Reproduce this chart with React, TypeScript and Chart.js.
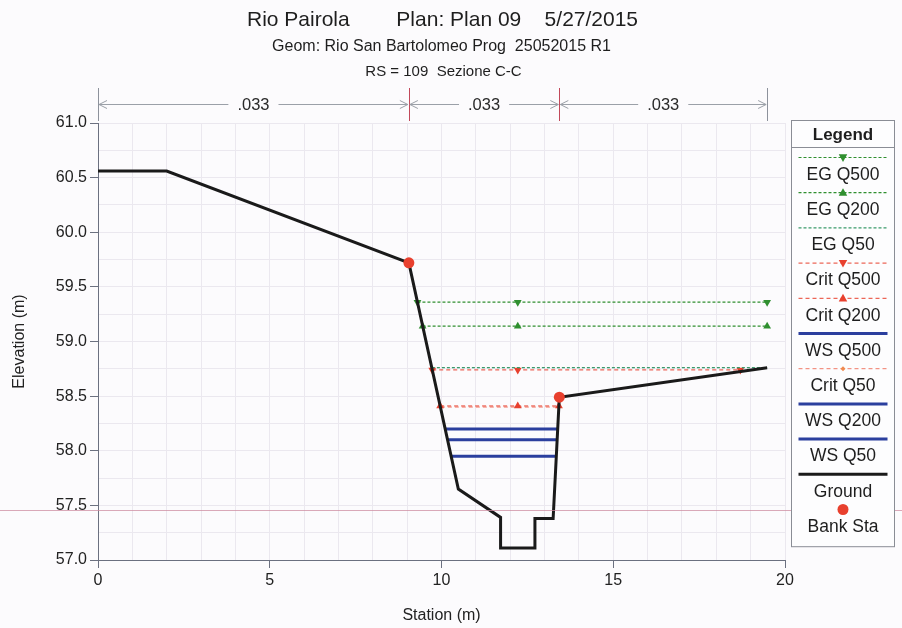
import React, { useEffect, useRef } from "react";
import { Chart, registerables } from "chart.js";

Chart.register(...registerables);

const FONT = "'Liberation Sans', Arial, sans-serif";

// ---- Data (station m, elevation m) ----
const groundSta = [0, 2.0, 9.05, 10.49, 11.72, 11.72, 12.72, 12.72, 13.25, 13.43, 19.48];
const groundElev = [60.56, 60.56, 59.72, 57.65, 57.39, 57.11, 57.11, 57.38, 57.38, 58.49, 58.76];
const bankSta = [9.05, 13.43];
const bankElev = [59.72, 58.49];

const egQ500Sta = [9.3, 12.22, 19.48];
const egQ500Elev = [59.36, 59.36, 59.36];
const egQ200Sta = [9.45, 12.22, 19.48];
const egQ200Elev = [59.14, 59.14, 59.14];
const egQ50Sta = [9.72, 19.48];
const egQ50Elev = [58.76, 58.76];
const critQ500Sta = [9.73, 12.22, 18.7];
const critQ500Elev = [58.74, 58.74, 58.74];
const critQ200Sta = [9.96, 12.22, 13.42];
const critQ200Elev = [58.41, 58.41, 58.41];
const critQ50Sta = [9.98, 13.42];
const critQ50Elev = [58.4, 58.4];
const wsQ500Sta = [10.11, 13.38];
const wsQ500Elev = [58.2, 58.2];
const wsQ200Sta = [10.18, 13.37];
const wsQ200Elev = [58.1, 58.1];
const wsQ50Sta = [10.28, 13.34];
const wsQ50Elev = [57.95, 57.95];

const manningN = [0.033, 0.033, 0.033];
const refLineElev = 57.46;

const titleLine = "Rio Pairola        Plan: Plan 09    5/27/2015";
const subLines = ["Geom: Rio San Bartolomeo Prog  25052015 R1", "RS = 109  Sezione C-C"];

const xMin = 0, xMax = 20, xStep = 1, xLabelEvery = 5;
const yMin = 57, yMax = 61, yStep = 0.25, yLabelEvery = 0.5;

const pts = (s: number[], e: number[]) => s.map((v, i) => ({ x: v, y: e[i] }));

const GREEN = "#2f8f2f";
const GREEN2 = "#3a9a6a";
const RED = "#e8402e";
const BLUE = "#2b3f9e";
const AXIS = "#6b7080";
const GRID = "#ebe8ef";

const isMult = (v: number, m: number) => Math.abs(v / m - Math.round(v / m)) < 1e-6;

function drawMarker(ctx: CanvasRenderingContext2D, style: string, x: number, y: number, r: number, rot: number, color: string) {
  ctx.save();
  ctx.fillStyle = color;
  ctx.strokeStyle = color;
  ctx.setLineDash([]);
  ctx.translate(x, y);
  ctx.rotate((rot * Math.PI) / 180);
  ctx.beginPath();
  if (style === "circle") {
    ctx.arc(0, 0, r, 0, Math.PI * 2);
    ctx.fill();
  } else if (style === "triangle") {
    ctx.moveTo(0, -r);
    ctx.lineTo(r * 0.95, r * 0.7);
    ctx.lineTo(-r * 0.95, r * 0.7);
    ctx.closePath();
    ctx.fill();
  } else if (style === "rectRot") {
    ctx.moveTo(0, -r);
    ctx.lineTo(r, 0);
    ctx.lineTo(0, r);
    ctx.lineTo(-r, 0);
    ctx.closePath();
    ctx.fill();
  }
  ctx.restore();
}

const bgPlugin = {
  id: "bg",
  beforeDraw(chart: any) {
    const { ctx } = chart;
    ctx.save();
    ctx.fillStyle = "#fcfbfd";
    ctx.fillRect(0, 0, chart.width, chart.height);
    ctx.restore();
  },
};

const titlePlugin = {
  id: "hecTitle",
  afterDraw(chart: any) {
    const { ctx, chartArea } = chart;
    const cx = (chartArea.left + chartArea.right) / 2;
    ctx.save();
    ctx.fillStyle = "#1e1e1e";
    ctx.textAlign = "center";
    ctx.textBaseline = "middle";
    ctx.font = `21px ${FONT}`;
    ctx.fillText(titleLine, cx + 1, 20);
    ctx.font = `16px ${FONT}`;
    ctx.fillText(subLines[0], cx, 47);
    ctx.font = `15px ${FONT}`;
    ctx.fillText(subLines[1], cx + 2, 72);
    ctx.restore();
  },
};

const nPlugin = {
  id: "nValues",
  afterDraw(chart: any) {
    const { ctx, chartArea } = chart;
    const xs = chart.scales.x;
    const stations = [groundSta[0], bankSta[0], bankSta[1], groundSta[groundSta.length - 1]];
    const px = stations.map((s) => xs.getPixelForValue(s));
    const yLine = chartArea.top - 19;
    const yTop = chartArea.top - 35;
    ctx.save();
    ctx.lineWidth = 1;
    px.forEach((p, i) => {
      ctx.strokeStyle = i === 0 || i === px.length - 1 ? "#8d929c" : "#c2485a";
      ctx.beginPath();
      ctx.moveTo(Math.round(p) + 0.5, yTop);
      ctx.lineTo(Math.round(p) + 0.5, chartArea.top - 2);
      ctx.stroke();
    });
    ctx.font = `16.5px ${FONT}`;
    ctx.textAlign = "center";
    ctx.textBaseline = "middle";
    for (let i = 0; i < manningN.length; i++) {
      const a = px[i] + 1, b = px[i + 1] - 1;
      const mid = (a + b) / 2;
      const label = manningN[i].toFixed(3).replace(/^0/, "");
      const w = ctx.measureText(label).width / 2 + 9;
      ctx.strokeStyle = "#9ba0a8";
      ctx.beginPath();
      ctx.moveTo(a, yLine + 0.5);
      ctx.lineTo(mid - w, yLine + 0.5);
      ctx.moveTo(mid + w, yLine + 0.5);
      ctx.lineTo(b, yLine + 0.5);
      ctx.moveTo(a + 8, yLine - 3.5);
      ctx.lineTo(a, yLine + 0.5);
      ctx.lineTo(a + 8, yLine + 4.5);
      ctx.moveTo(b - 8, yLine - 3.5);
      ctx.lineTo(b, yLine + 0.5);
      ctx.lineTo(b - 8, yLine + 4.5);
      ctx.stroke();
      ctx.fillStyle = "#2a2a2a";
      ctx.fillText(label, mid, yLine + 1);
    }
    ctx.restore();
  },
};

const refLinePlugin = {
  id: "refLine",
  afterDraw(chart: any) {
    const { ctx } = chart;
    const y = Math.round(chart.scales.y.getPixelForValue(refLineElev)) + 0.5;
    ctx.save();
    ctx.strokeStyle = "rgba(205,140,160,0.75)";
    ctx.lineWidth = 1;
    ctx.beginPath();
    ctx.moveTo(0, y);
    ctx.lineTo(chart.width, y);
    ctx.stroke();
    ctx.restore();
  },
};

const legendPlugin = {
  id: "hecLegend",
  afterDraw(chart: any) {
    const { ctx, chartArea } = chart;
    const left = chartArea.right + 6.5;
    const right = chart.width - 7.5;
    const top = chartArea.top - 2.5;
    const headerH = 27;
    const itemH = 35.2;
    const ds = chart.data.datasets;
    const bottom = top + headerH + ds.length * itemH + 12;
    const cx = (left + right) / 2;
    ctx.save();
    ctx.fillStyle = "#fdfdfe";
    ctx.fillRect(left, top, right - left, bottom - top);
    ctx.strokeStyle = "#8a8d95";
    ctx.lineWidth = 1;
    ctx.strokeRect(left, top, right - left, bottom - top);
    ctx.beginPath();
    ctx.moveTo(left, top + headerH);
    ctx.lineTo(right, top + headerH);
    ctx.stroke();
    ctx.fillStyle = "#1e1e1e";
    ctx.textAlign = "center";
    ctx.textBaseline = "middle";
    ctx.font = `bold 17px ${FONT}`;
    ctx.fillText("Legend", cx, top + headerH / 2 + 1);
    ctx.font = `17.5px ${FONT}`;
    ds.forEach((d: any, i: number) => {
      const it = top + headerH + i * itemH;
      const ly = it + 10;
      if (d.showLine) {
        ctx.save();
        ctx.strokeStyle = d.borderColor;
        ctx.lineWidth = d.borderWidth;
        ctx.setLineDash(d.borderDash || []);
        ctx.beginPath();
        ctx.moveTo(left + 7, ly);
        ctx.lineTo(right - 7, ly);
        ctx.stroke();
        ctx.restore();
      }
      if (d.pointRadius > 0) {
        drawMarker(ctx, d.pointStyle, cx, ly, d.pointRadius, d.rotation || 0, d.pointBackgroundColor);
      }
      ctx.fillStyle = "#1e1e1e";
      ctx.fillText(d.label, cx, it + 27.5);
    });
    ctx.restore();
  },
};

function lineDs(label: string, data: any[], color: string, width: number, dash: number[], order: number, marker?: { style: string; r: number; rot: number; color: string }) {
  return {
    label,
    data,
    showLine: true,
    borderColor: color,
    borderWidth: width,
    borderDash: dash,
    pointRadius: marker ? marker.r : 0,
    pointHoverRadius: marker ? marker.r : 0,
    pointStyle: marker ? marker.style : "circle",
    rotation: marker ? marker.rot : 0,
    pointBackgroundColor: marker ? marker.color : color,
    pointBorderColor: marker ? marker.color : color,
    pointBorderWidth: 0,
    order,
  };
}

export default function App() {
  const ref = useRef<HTMLCanvasElement | null>(null);
  useEffect(() => {
    if (!ref.current) return;
    const datasets = [
      lineDs("EG Q500", pts(egQ500Sta, egQ500Elev), GREEN, 1.2, [3, 2], 5, { style: "triangle", r: 4.5, rot: 180, color: GREEN }),
      lineDs("EG Q200", pts(egQ200Sta, egQ200Elev), GREEN, 1.2, [3, 2], 6, { style: "triangle", r: 4.5, rot: 0, color: GREEN }),
      lineDs("EG Q50", pts(egQ50Sta, egQ50Elev), GREEN2, 1.2, [3, 2], 7),
      lineDs("Crit Q500", pts(critQ500Sta, critQ500Elev), RED, 1, [4, 3], 8, { style: "triangle", r: 4.5, rot: 180, color: RED }),
      lineDs("Crit Q200", pts(critQ200Sta, critQ200Elev), RED, 1, [4, 3], 9, { style: "triangle", r: 4.5, rot: 0, color: RED }),
      lineDs("WS Q500", pts(wsQ500Sta, wsQ500Elev), BLUE, 3, [], 2),
      lineDs("Crit Q50", pts(critQ50Sta, critQ50Elev), "#f07a68", 1, [4, 3], 10, { style: "rectRot", r: 2.5, rot: 0, color: "#f08a50" }),
      lineDs("WS Q200", pts(wsQ200Sta, wsQ200Elev), BLUE, 3, [], 3),
      lineDs("WS Q50", pts(wsQ50Sta, wsQ50Elev), BLUE, 3, [], 4),
      lineDs("Ground", pts(groundSta, groundElev), "#1a1a1a", 3, [], 1),
      {
        label: "Bank Sta",
        data: pts(bankSta, bankElev),
        showLine: false,
        borderColor: RED,
        borderWidth: 0,
        pointRadius: 5.5,
        pointHoverRadius: 5.5,
        pointStyle: "circle",
        rotation: 0,
        pointBackgroundColor: RED,
        pointBorderColor: RED,
        pointBorderWidth: 0,
        order: 0,
      },
    ];
    const chart = new Chart(ref.current, {
      type: "scatter",
      data: { datasets: datasets as any },
      options: {
        responsive: false,
        animation: false,
        events: [],
        layout: { padding: { top: 123, left: 8, right: 117, bottom: 0 } },
        plugins: { legend: { display: false }, tooltip: { enabled: false }, title: { display: false } },
        elements: { line: { tension: 0 } },
        scales: {
          x: {
            type: "linear",
            min: xMin,
            max: xMax,
            afterFit: (s: any) => {
              s.height = 68;
            },
            border: { color: AXIS, width: 1 },
            grid: {
              color: GRID,
              lineWidth: 1,
              tickLength: 8,
              tickColor: (c: any) => (c.tick && isMult(c.tick.value, xLabelEvery) ? AXIS : "rgba(0,0,0,0)"),
            },
            ticks: {
              stepSize: xStep,
              autoSkip: false,
              maxRotation: 0,
              padding: 3,
              color: "#222",
              font: { family: FONT, size: 16 },
              callback: (v: any) => (isMult(Number(v), xLabelEvery) ? String(Math.round(Number(v))) : ""),
            },
            title: { display: true, text: "Station (m)", color: "#222", font: { family: FONT, size: 16 }, padding: { top: 4, bottom: 3 } },
          },
          y: {
            type: "linear",
            min: yMin,
            max: yMax,
            afterFit: (s: any) => {
              s.width = 90;
            },
            border: { color: AXIS, width: 1 },
            grid: {
              color: GRID,
              lineWidth: 1,
              tickLength: 8,
              tickColor: (c: any) => (c.tick && isMult(c.tick.value, yLabelEvery) ? AXIS : "rgba(0,0,0,0)"),
            },
            ticks: {
              stepSize: yStep,
              autoSkip: false,
              padding: 3,
              color: "#222",
              font: { family: FONT, size: 16 },
              callback: (v: any) => (isMult(Number(v), yLabelEvery) ? Number(v).toFixed(1) : ""),
            },
            title: { display: true, text: "Elevation (m)", color: "#222", font: { family: FONT, size: 16 }, padding: { top: 2, bottom: 4 } },
          },
        },
      },
      plugins: [bgPlugin, titlePlugin, nPlugin, refLinePlugin, legendPlugin],
    } as any);
    return () => chart.destroy();
  }, []);
  return (
    <div style={{ position: "fixed", left: 0, top: 0, width: 902, height: 628 }}>
      <canvas ref={ref} width={902} height={628} style={{ display: "block", width: 902, height: 628 }} />
    </div>
  );
}
